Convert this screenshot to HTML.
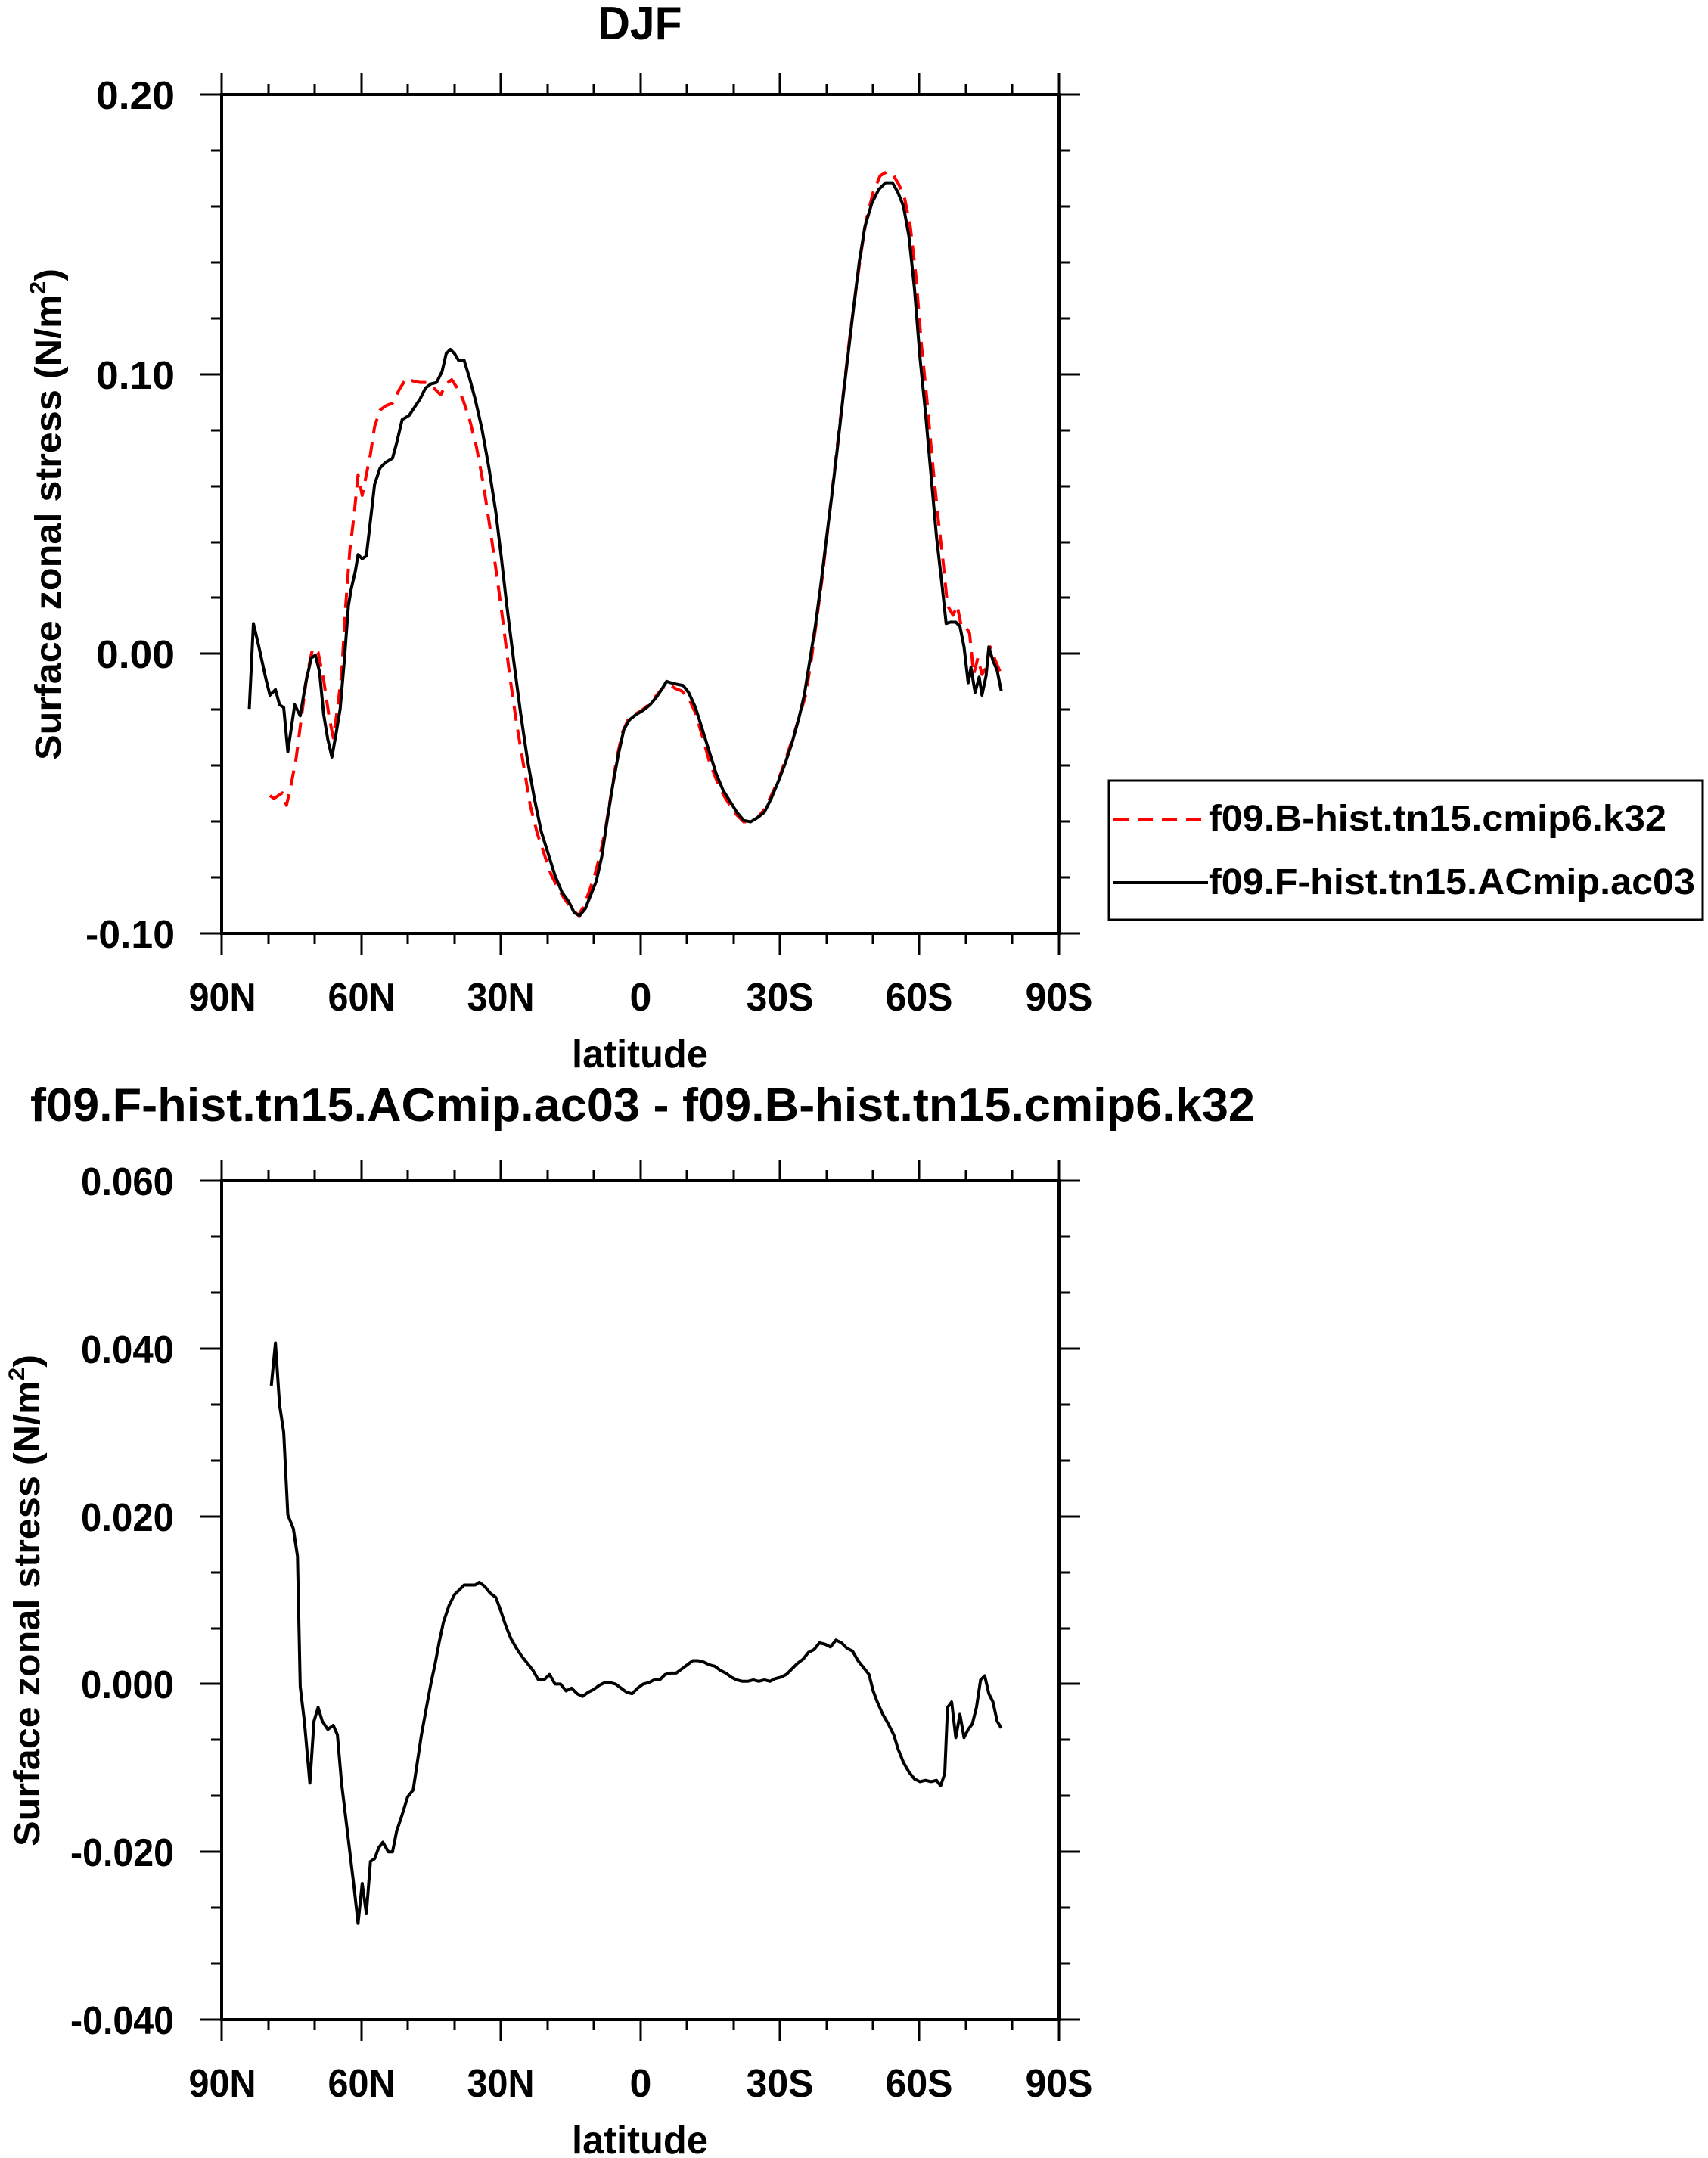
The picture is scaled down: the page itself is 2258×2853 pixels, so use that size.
<!DOCTYPE html>
<html><head><meta charset="utf-8"><style>
html,body{margin:0;padding:0;background:#fff}
svg{display:block}
text{font-family:"Liberation Sans",Arial,sans-serif;font-weight:bold;fill:#000}
</style></head><body>
<svg width="2258" height="2853" viewBox="0 0 2258 2853" xmlns="http://www.w3.org/2000/svg">
<text x="846" y="52" font-size="62" text-anchor="middle" textLength="111" lengthAdjust="spacingAndGlyphs">DJF</text>
<text x="40" y="1482" font-size="62" textLength="1619" lengthAdjust="spacingAndGlyphs">f09.F-hist.tn15.ACmip.ac03 - f09.B-hist.tn15.cmip6.k32</text>

<!-- TOP PLOT -->
<g stroke="#000" stroke-width="3" fill="none">
<path d="M293,125V97M478,125V97M662,125V97M847,125V97M1031,125V97M1215,125V97M1400,125V97
M355,125V111M416,125V111M539,125V111M601,125V111M724,125V111M785,125V111M908,125V111M970,125V111M1093,125V111M1154,125V111M1277,125V111M1338,125V111
M293,1234V1262M478,1234V1262M662,1234V1262M847,1234V1262M1031,1234V1262M1215,1234V1262M1400,1234V1262
M355,1234V1248M416,1234V1248M539,1234V1248M601,1234V1248M724,1234V1248M785,1234V1248M908,1234V1248M970,1234V1248M1093,1234V1248M1154,1234V1248M1277,1234V1248M1338,1234V1248
M293,125H265M293,495H265M293,864H265M293,1234H265M1400,125H1428M1400,495H1428M1400,864H1428M1400,1234H1428
M293,199H279M293,273H279M293,347H279M293,421H279M293,569H279M293,643H279M293,717H279M293,790H279M293,938H279M293,1012H279M293,1086H279M293,1160H279
M1400,199H1414M1400,273H1414M1400,347H1414M1400,421H1414M1400,569H1414M1400,643H1414M1400,717H1414M1400,790H1414M1400,938H1414M1400,1012H1414M1400,1086H1414M1400,1160H1414"/>
<rect x="293" y="125" width="1107" height="1109" stroke-width="4"/>
</g>
<g font-size="52" text-anchor="end">
<text x="231" y="144" textLength="104" lengthAdjust="spacingAndGlyphs">0.20</text>
<text x="231" y="514" textLength="104" lengthAdjust="spacingAndGlyphs">0.10</text>
<text x="231" y="883" textLength="104" lengthAdjust="spacingAndGlyphs">0.00</text>
<text x="231" y="1253" textLength="118" lengthAdjust="spacingAndGlyphs">-0.10</text>
</g>
<g font-size="52" text-anchor="middle">
<text x="294" y="1336" textLength="89" lengthAdjust="spacingAndGlyphs">90N</text>
<text x="478" y="1336" textLength="89" lengthAdjust="spacingAndGlyphs">60N</text>
<text x="662" y="1336" textLength="89" lengthAdjust="spacingAndGlyphs">30N</text>
<text x="847" y="1336">0</text>
<text x="1031" y="1336" textLength="89" lengthAdjust="spacingAndGlyphs">30S</text>
<text x="1215" y="1336" textLength="89" lengthAdjust="spacingAndGlyphs">60S</text>
<text x="1400" y="1336" textLength="89" lengthAdjust="spacingAndGlyphs">90S</text>
<text x="846" y="1411" textLength="180" lengthAdjust="spacingAndGlyphs">latitude</text>
</g>
<text transform="translate(80,680) rotate(-90)" font-size="48" text-anchor="middle" textLength="650" lengthAdjust="spacingAndGlyphs">Surface zonal stress (N/m<tspan font-size="30" dy="-20">2</tspan><tspan dy="20">)</tspan></text>

<g transform="translate(0,-0.6) scale(1.8207,1.821)" fill="none" stroke-linejoin="round">
<path vector-effect="non-scaling-stroke" stroke="#f00" stroke-width="4" stroke-dasharray="20,12" d="M196,578 L199,580 202,578 205,576 208,585 211,572 215,551 219,520 223,490 227,471 231,474 235,494 239,521 242,536 245,515 248,490 251,440 254,400 257,375 260,345 263,360 266,345 269,330 272,310 276,298 280,295 285,293 290,283 295,275 300,277 305,278 310,278 315,282 320,287 324,279 328,276 332,282 336,290 341,305 346,325 351,352 356,385 361,420 365,450 370,490 375,525 380,555 385,585 390,605 395,620 400,635 405,645 410,653 415,660 420,665 424,658 428,647 432,635 436,620 440,600 444,575 448,550 452,532 456,523 461,519 466,516 471,512 476,506 481,500 486,497 490,500 495,502 500,507 505,518 510,535 515,553 520,566 525,577 530,585 535,592 540,597 545,597 550,594 555,588 560,578 565,567 570,553 575,538 580,522 585,505 589,480 593,450 597,420 601,385 605,350 609,315 613,280 617,245 621,215 625,185 629,160 634,140 639,128 644,125 649,128 653,135 657,145 661,165 665,200 669,250 673,290 677,335 681,375 685,410 688,440 692,447 695,440 698,455 701,455 704,460 707,490 710,478 713,490 716,485 719,470 722,478 727,490"/>
<path vector-effect="non-scaling-stroke" stroke="#000" stroke-width="4" d="M181,515 L184,453 188,470 193,493 196,505 200,501 203,512 206,514 209,546 214,512 218,520 222,496 226,478 229,476 232,488 235,519 238,537 241,550 244,533 247,515 250,480 253,440 255,428 258,415 260,403 263,406 266,404 269,378 272,352 276,340 280,336 285,333 288,322 292,305 297,302 301,296 305,290 309,282 313,279 317,278 321,270 324,257 327,254 330,257 333,262 337,262 341,275 345,290 350,312 355,340 360,372 364,405 368,440 373,480 378,518 383,552 388,580 393,604 398,620 403,636 408,648 413,655 417,663 421,665 425,660 429,650 433,640 437,622 441,595 445,570 449,548 453,530 457,523 462,519 467,516 472,512 477,506 481,500 484,495 487,496 491,497 496,498 500,503 505,514 510,530 515,546 520,562 525,574 530,582 535,590 540,596 545,597 550,594 555,590 560,580 565,568 570,555 575,540 580,522 584,505 588,480 592,455 596,425 600,392 604,360 608,326 612,290 616,256 620,222 624,190 628,165 633,148 638,138 643,133 648,133 652,140 656,150 660,172 664,210 668,260 672,300 676,345 680,390 684,425 687,453 690,452 694,452 697,455 700,470 703,496 705,485 708,503 711,492 713,505 716,491 718,470 721,480 724,487 727,502"/>
</g>

<!-- LEGEND -->
<rect x="1466" y="1032" width="785" height="184" fill="none" stroke="#000" stroke-width="3"/>
<line x1="1472" y1="1083" x2="1597" y2="1083" stroke="#f00" stroke-width="4" stroke-dasharray="20,12"/>
<line x1="1472" y1="1167" x2="1597" y2="1167" stroke="#000" stroke-width="4"/>
<text x="1598" y="1098" font-size="48" textLength="605" lengthAdjust="spacingAndGlyphs">f09.B-hist.tn15.cmip6.k32</text>
<text x="1598" y="1182" font-size="48" textLength="643" lengthAdjust="spacingAndGlyphs">f09.F-hist.tn15.ACmip.ac03</text>

<!-- BOTTOM PLOT -->
<g stroke="#000" stroke-width="3" fill="none">
<path d="M293,1561V1533M478,1561V1533M662,1561V1533M847,1561V1533M1031,1561V1533M1215,1561V1533M1400,1561V1533
M355,1561V1547M416,1561V1547M539,1561V1547M601,1561V1547M724,1561V1547M785,1561V1547M908,1561V1547M970,1561V1547M1093,1561V1547M1154,1561V1547M1277,1561V1547M1338,1561V1547
M293,2670V2698M478,2670V2698M662,2670V2698M847,2670V2698M1031,2670V2698M1215,2670V2698M1400,2670V2698
M355,2670V2684M416,2670V2684M539,2670V2684M601,2670V2684M724,2670V2684M785,2670V2684M908,2670V2684M970,2670V2684M1093,2670V2684M1154,2670V2684M1277,2670V2684M1338,2670V2684
M293,1561H265M293,1783H265M293,2005H265M293,2226H265M293,2448H265M293,2670H265
M1400,1561H1428M1400,1783H1428M1400,2005H1428M1400,2226H1428M1400,2448H1428M1400,2670H1428
M293,1635H279M293,1709H279M293,1857H279M293,1931H279M293,2079H279M293,2153H279M293,2300H279M293,2374H279M293,2522H279M293,2596H279
M1400,1635H1414M1400,1709H1414M1400,1857H1414M1400,1931H1414M1400,2079H1414M1400,2153H1414M1400,2300H1414M1400,2374H1414M1400,2522H1414M1400,2596H1414"/>
<rect x="293" y="1561" width="1107" height="1109" stroke-width="4"/>
</g>
<g font-size="52" text-anchor="end">
<text x="230" y="1580" textLength="123" lengthAdjust="spacingAndGlyphs">0.060</text>
<text x="230" y="1802" textLength="123" lengthAdjust="spacingAndGlyphs">0.040</text>
<text x="230" y="2024" textLength="123" lengthAdjust="spacingAndGlyphs">0.020</text>
<text x="230" y="2245" textLength="123" lengthAdjust="spacingAndGlyphs">0.000</text>
<text x="230" y="2467" textLength="137" lengthAdjust="spacingAndGlyphs">-0.020</text>
<text x="230" y="2689" textLength="137" lengthAdjust="spacingAndGlyphs">-0.040</text>
</g>
<g font-size="52" text-anchor="middle">
<text x="294" y="2772" textLength="89" lengthAdjust="spacingAndGlyphs">90N</text>
<text x="478" y="2772" textLength="89" lengthAdjust="spacingAndGlyphs">60N</text>
<text x="662" y="2772" textLength="89" lengthAdjust="spacingAndGlyphs">30N</text>
<text x="847" y="2772">0</text>
<text x="1031" y="2772" textLength="89" lengthAdjust="spacingAndGlyphs">30S</text>
<text x="1215" y="2772" textLength="89" lengthAdjust="spacingAndGlyphs">60S</text>
<text x="1400" y="2772" textLength="89" lengthAdjust="spacingAndGlyphs">90S</text>
<text x="846" y="2847" textLength="180" lengthAdjust="spacingAndGlyphs">latitude</text>
</g>
<text transform="translate(52,2116) rotate(-90)" font-size="48" text-anchor="middle" textLength="650" lengthAdjust="spacingAndGlyphs">Surface zonal stress (N/m<tspan font-size="30" dy="-20">2</tspan><tspan dy="20">)</tspan></text>

<g transform="translate(0,3) scale(1.8207,1.818)" fill="none" stroke-linejoin="round">
<path vector-effect="non-scaling-stroke" stroke="#000" stroke-width="4" d="M197,1006 L200,975 203,1020 206,1040 209,1100 213,1110 216,1130 218,1225 221,1250 225,1295 228,1250 231,1240 234,1250 238,1256 242,1253 245,1260 248,1295 251,1320 254,1345 257,1370 260,1397 263,1368 266,1390 269,1352 272,1350 275,1342 278,1338 282,1345 285,1345 288,1330 292,1318 296,1305 300,1300 303,1280 306,1260 310,1238 313,1222 316,1208 319,1192 322,1178 326,1166 330,1158 333,1155 337,1151 341,1151 345,1151 348,1149 352,1152 356,1157 360,1160 363,1168 367,1180 371,1190 375,1197 379,1203 383,1208 387,1213 391,1220 395,1220 399,1216 403,1223 407,1223 411,1228 415,1226 419,1230 423,1232 427,1229 431,1227 435,1224 439,1222 443,1222 447,1223 451,1226 455,1229 459,1230 463,1226 467,1223 471,1222 475,1220 479,1220 483,1216 487,1215 491,1215 495,1212 499,1209 503,1206 507,1206 511,1207 515,1209 519,1210 523,1213 527,1215 531,1218 535,1220 539,1221 543,1221 547,1220 551,1221 555,1220 559,1221 563,1219 567,1218 571,1216 575,1212 579,1208 583,1205 587,1200 591,1198 595,1193 599,1194 603,1196 607,1191 611,1193 615,1197 619,1199 623,1206 627,1211 631,1216 634,1228 637,1236 641,1245 645,1252 649,1260 652,1270 656,1280 660,1287 664,1292 668,1294 672,1293 676,1294 680,1293 683,1297 686,1288 688,1240 691,1236 694,1262 697,1245 700,1262 703,1256 706,1252 709,1240 712,1220 715,1217 718,1230 721,1236 724,1250 727,1255"/>
</g>
</svg>
</body></html>
